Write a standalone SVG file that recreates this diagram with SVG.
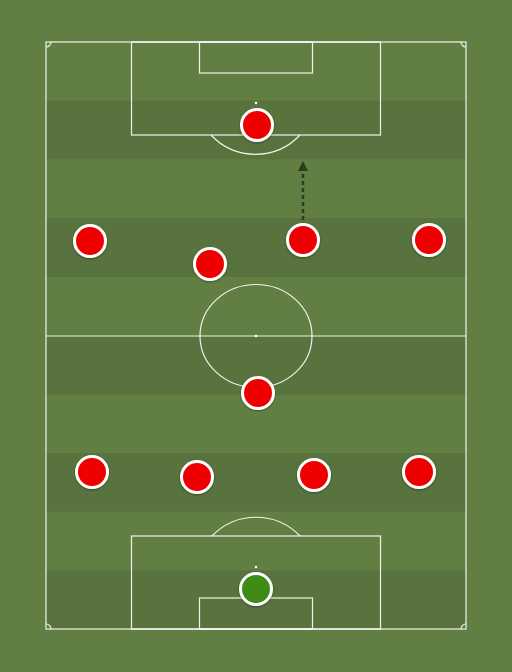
<svg xmlns="http://www.w3.org/2000/svg" width="512" height="672" viewBox="0 0 512 672">
<defs>
<style>
.line{fill:none;stroke:#ffffff;stroke-width:1.2;stroke-opacity:0.9}
.dark{fill:#58733e}
.p{stroke:#ffffff;stroke-width:3}
.red{fill:#ee0000}
.gk{fill:#3c8c17}
</style>
<filter id="sh" x="-50%" y="-50%" width="200%" height="200%">
<feDropShadow dx="0" dy="1" stdDeviation="1.2" flood-color="#000" flood-opacity="0.35"/>
</filter>
<marker id="ah" viewBox="0 0 10 10" refX="5" refY="5" markerWidth="4" markerHeight="4" orient="auto">
<path d="M0,0 L10,5 L0,10 z" fill="#2a3d1e"/>
</marker>
</defs>
<rect width="512" height="672" fill="#627f43"/>
<g id="stripes">
<rect class="dark" x="46" y="100.7" width="420" height="58.7"/>
<rect class="dark" x="46" y="218.1" width="420" height="58.7"/>
<rect class="dark" x="46" y="336" width="420" height="58.7"/>
<rect class="dark" x="46" y="452.9" width="420" height="58.7"/>
<rect class="dark" x="46" y="570.3" width="420" height="58.7"/>
</g>
<g id="pitch-lines">
<rect class="line" x="46" y="42" width="420" height="587"/>
<line class="line" x1="46" y1="336" x2="466" y2="336"/>
<ellipse class="line" cx="256" cy="336" rx="56" ry="51.5"/>
<circle cx="256" cy="336" r="1.2" fill="#fff"/>
<rect class="line" x="131.5" y="42" width="249" height="93"/>
<rect class="line" x="199.5" y="42" width="113" height="31"/>
<circle cx="256" cy="103" r="1.3" fill="#fff"/>
<path class="line" d="M211,135 A61,61 0 0 0 300,135"/>
<rect class="line" x="131.5" y="536" width="249" height="93"/>
<rect class="line" x="199.5" y="598" width="113" height="31"/>
<circle cx="256" cy="567" r="1.3" fill="#fff"/>
<path class="line" d="M212,536 A61,61 0 0 1 300,536"/>
<path class="line" d="M46,47 A5,5 0 0 0 51,42"/>
<path class="line" d="M461,42 A5,5 0 0 0 466,47"/>
<path class="line" d="M46,624 A5,5 0 0 1 51,629"/>
<path class="line" d="M461,629 A5,5 0 0 1 466,624"/>
</g>
<g id="connectors">
<line x1="303" y1="220" x2="303" y2="166" stroke="#2a3d1e" stroke-width="2.5" stroke-dasharray="4,3" marker-end="url(#ah)"/>
</g>
<g id="players" filter="url(#sh)">
<g id="p1"><circle class="p red" cx="257" cy="125" r="15.5"/></g>
<g id="p2"><circle class="p red" cx="90" cy="241" r="15.5"/></g>
<g id="p3"><circle class="p red" cx="210" cy="264" r="15.5"/></g>
<g id="p4"><circle class="p red" cx="303" cy="240" r="15.5"/></g>
<g id="p5"><circle class="p red" cx="429" cy="240" r="15.5"/></g>
<g id="p6"><circle class="p red" cx="258" cy="393" r="15.5"/></g>
<g id="p7"><circle class="p red" cx="92" cy="472" r="15.5"/></g>
<g id="p8"><circle class="p red" cx="197" cy="477" r="15.5"/></g>
<g id="p9"><circle class="p red" cx="314" cy="475" r="15.5"/></g>
<g id="p10"><circle class="p red" cx="419" cy="472" r="15.5"/></g>
<g id="gk"><circle class="p gk" cx="256" cy="589" r="15.5"/></g>
</g>
</svg>
